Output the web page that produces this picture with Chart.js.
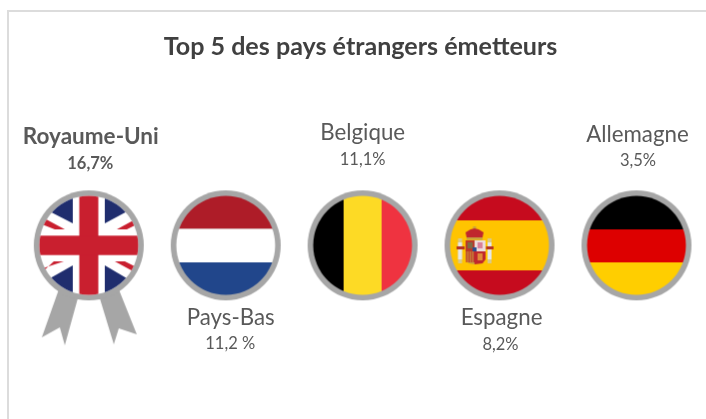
<!DOCTYPE html>
<html lang="fr">
<head>
<meta charset="utf-8">
<title>Top 5 des pays étrangers émetteurs</title>
<script src="https://cdn.jsdelivr.net/npm/chart.js@4"></script>
<style>
  html, body { margin: 0; padding: 0; background: #fff; }
  #wrap { position: relative; width: 706px; height: 419px; overflow: hidden; }
  #frame { position: absolute; left: 7px; top: 10px; right: -4px; bottom: -4px; border: 2px solid #dcdcdc; }
  canvas { position: absolute; left: 0; top: 0; display: block; }
</style>
</head>
<body>
<div id="wrap">
  <div id="frame"></div>
  <canvas id="topPaysChart" width="706" height="419"></canvas>
</div>
<script>
const categories = ["Royaume-Uni", "Pays-Bas", "Belgique", "Espagne", "Allemagne"];
const shareValues = [16.7, 11.2, 11.1, 8.2, 3.5];
const shareLabels = ["16,7%", "11,2 %", "11,1%", "8,2%", "3,5%"];

const GREY = "#a6a6a6";
const SIZE = 220, C = SIZE / 2, R = 55, INNER = 49.4;

function rect(ctx, color, x, y, w, h) {
    ctx.fillStyle = color;
    ctx.fillRect(C + x, C + y, w, h);
}

function poly(ctx, color, pts) {
    ctx.fillStyle = color;
    ctx.beginPath();
    pts.forEach(p => ctx.lineTo(C + p[0], C + p[1]));
    ctx.closePath();
    ctx.fill();
}

function drawUK(ctx) {
    rect(ctx, "#ffffff", -55, -55, 110, 110);
    const navy = "#1f2d6e", red = "#c91f2f";
    poly(ctx, navy, [[-16, -22], [-16, -55], [-55, -55], [-55, -42]]);
    poly(ctx, navy, [[16, -22], [16, -55], [55, -55], [55, -43]]);
    poly(ctx, navy, [[-16, 20], [-16, 55], [-55, 55], [-55, 42]]);
    poly(ctx, navy, [[16, 20], [16, 55], [55, 55], [55, 43]]);
    // thin red diagonals, they stop at the white bar
    poly(ctx, red, [[-52, -31], [-24, -16], [-34, -16], [-52, -23]]);
    poly(ctx, red, [[52, -29], [28, -16], [38, -16], [52, -23]]);
    poly(ctx, red, [[-52, 25], [-25, 16], [-35, 16], [-52, 32]]);
    poly(ctx, red, [[52, 30], [26, 16], [36, 16], [52, 24]]);
    rect(ctx, red, -9.5, -55, 19, 110);
    rect(ctx, red, -55, -9.7, 110, 19.4);
}

function drawNL(ctx) {
    rect(ctx, "#ae1c28", -55, -55, 110, 38.5);
    rect(ctx, "#ffffff", -55, -16.5, 110, 33.5);
    rect(ctx, "#21468b", -55, 17, 110, 38);
}

function drawBE(ctx) {
    rect(ctx, "#000000", -55, -55, 36, 110);
    rect(ctx, "#fdda25", -19, -55, 38, 110);
    rect(ctx, "#ef3340", 19, -55, 36, 110);
}

function drawES(ctx) {
    rect(ctx, "#c60b1e", -55, -55, 110, 30);
    rect(ctx, "#ffc400", -55, -25, 110, 50);
    rect(ctx, "#c60b1e", -55, 25, 110, 30);
    // coat of arms
    rect(ctx, "#d9c98a", -41.5, -7, 4, 25);
    rect(ctx, "#d9c98a", -12, -7, 4, 25);
    rect(ctx, "#e6e8ea", -41.5, -3, 4, 17);
    rect(ctx, "#e6e8ea", -12, -3, 4, 17);
    rect(ctx, "#b5331f", -43, 1, 8, 3);
    rect(ctx, "#b5331f", -13.5, 1, 7.5, 3);
    rect(ctx, "#c8a23c", -26.5, -19, 3, 3);
    poly(ctx, "#c0272d", [[-33, -8], [-34, -13], [-29, -16], [-25, -17], [-21, -16], [-16, -13], [-17, -8]]);
    rect(ctx, "#c8a23c", -33, -8, 16, 2.5);
    rect(ctx, "#b93a2b", -34, -5, 9, 11);
    rect(ctx, "#7d6a45", -32, -3, 5, 6);
    rect(ctx, "#ecdcdc", -25, -5, 11, 11);
    rect(ctx, "#d97f9a", -22, -3, 5, 6);
    poly(ctx, "#c8a23c", [[-34, 6], [-25, 6], [-25, 19], [-31, 18], [-34, 14]]);
    for (let i = 0; i < 4; i++) rect(ctx, "#c0272d", -33.5 + i * 2.4, 6, 1.2, 11);
    poly(ctx, "#c0272d", [[-25, 6], [-14, 6], [-14, 14], [-17, 18], [-25, 19]]);
    rect(ctx, "#e08a3a", -22, 8, 5, 7);
    rect(ctx, "#2a4f8f", -27, 2, 4, 4);
}

function drawDE(ctx) {
    rect(ctx, "#000000", -55, -55, 110, 39);
    rect(ctx, "#dd0000", -55, -16, 110, 33);
    rect(ctx, "#ffce00", -55, 17, 110, 38);
}

const flagPainters = [drawUK, drawNL, drawBE, drawES, drawDE];

function makeBadge(index) {
    const cv = document.createElement("canvas");
    cv.width = SIZE;
    cv.height = SIZE;
    const ctx = cv.getContext("2d");
    if (index === 0) {
        // medal ribbons behind the first place
        poly(ctx, GREY, [[-30, 44], [-47, 92], [-29, 82], [-24, 100], [-11, 53]]);
        poly(ctx, GREY, [[30, 44], [48, 89], [30, 83], [25, 99], [11, 53]]);
    }
    ctx.fillStyle = GREY;
    ctx.beginPath();
    ctx.arc(C, C, R, 0, Math.PI * 2);
    ctx.fill();
    ctx.save();
    ctx.beginPath();
    ctx.arc(C, C, INNER, 0, Math.PI * 2);
    ctx.clip();
    flagPainters[index](ctx);
    ctx.restore();
    return cv;
}

// label offsets from each badge centre, in pixels: name x, value x, name y, value y
const labelOffsets = [
    [2, 1.5, -101, -76],
    [5, 4.5, 80, 104],
    [0, 0, -105, -80],
    [2, 1, 80, 105],
    [1, 1.5, -103.5, -79.5]
];

const badgeLabels = {
    id: "badgeLabels",
    afterDatasetsDraw(chart) {
        const ctx = chart.ctx;
        const points = chart.getDatasetMeta(0).data;
        ctx.save();
        ctx.textAlign = "center";
        ctx.textBaseline = "alphabetic";
        points.forEach((pt, i) => {
            const first = i === 0;
            const off = labelOffsets[i];
            ctx.fillStyle = "#595959";
            ctx.font = (first ? "bold 22.5px" : "22.3px") + " Lato";
            ctx.fillText(categories[i], pt.x + off[0], pt.y + off[2]);
            ctx.font = (first ? "bold 16.5px" : "16.5px") + " Lato";
            ctx.fillText(shareLabels[i], pt.x + off[1], pt.y + off[3]);
        });
        ctx.restore();
    }
};

new Chart(document.getElementById("topPaysChart"), {
    type: "scatter",
    data: {
        datasets: [{
            label: "Part des pays étrangers émetteurs",
            data: categories.map((c, i) => ({ x: i, y: 0, share: shareValues[i] })),
            pointStyle: categories.map((c, i) => makeBadge(i)),
            clip: false
        }]
    },
    options: {
        responsive: false,
        animation: false,
        layout: { autoPadding: false, padding: { left: 15, right: 0, top: 0, bottom: 16.4 } },
        plugins: {
            legend: { display: false },
            tooltip: { enabled: false },
            title: {
                display: true,
                text: "Top 5 des pays étrangers émetteurs",
                color: "#404040",
                font: { family: "Lato", size: 25.1, weight: "bold" },
                padding: { top: 32, bottom: 26 }
            }
        },
        scales: {
            x: { type: "linear", display: false, min: -0.539, max: 4.508 },
            y: { type: "linear", display: false, min: -1, max: 1 }
        }
    },
    plugins: [badgeLabels]
});
</script>
</body>
</html>
